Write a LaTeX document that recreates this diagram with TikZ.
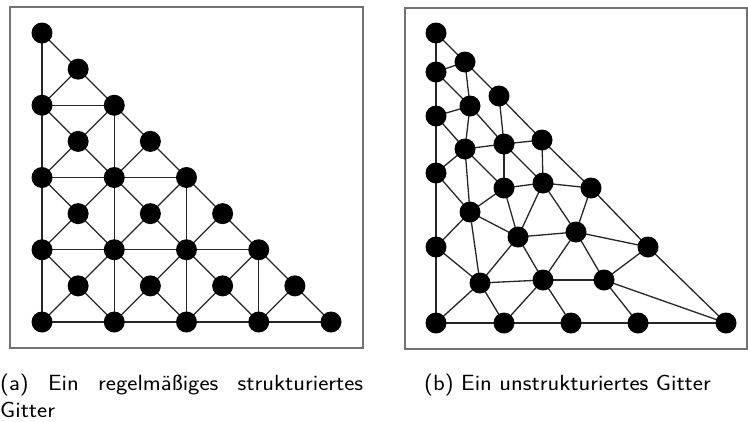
\documentclass[tikz,border=0pt]{standalone}
\usepackage{graphicx}
\begin{document}
\begin{tikzpicture}[x=1pt,y=-1pt,
  dot/.style={circle,fill=black,draw=none,minimum size=21pt,inner sep=0pt},
  link/.style={draw=black!85,line width=1.3pt},
  frame/.style={draw=black!55,line width=1.4pt},
  captext/.style={font=\sffamily\fontsize{22}{27.5}\selectfont,inner sep=0pt}]
\useasboundingbox (0,0) rectangle (748,421);

% ---- panel (a): regular structured mesh ----
\draw[frame] (10,7) rectangle (363,348);
\def\gx{36.125}
% corner nodes (even indices) and centre nodes (odd indices)
\foreach \i in {0,...,8}{
  \foreach \j in {0,...,8}{
    \pgfmathtruncatemacro{\sumij}{\i+\j}
    \pgfmathtruncatemacro{\modi}{mod(\i,2)}
    \pgfmathtruncatemacro{\modj}{mod(\j,2)}
    \ifnum\sumij<9
      \ifnum\modi=\modj
        \coordinate (a-\i-\j) at ({42+\gx*\i},{322-\gx*\j});
      \fi
    \fi
  }
}
% horizontal and vertical lines through the corner nodes
\draw[link] (a-0-0) -- (a-8-0);
\draw[link] (a-0-2) -- (a-6-2);
\draw[link] (a-0-4) -- (a-4-4);
\draw[link] (a-0-6) -- (a-2-6);
\draw[link] (a-0-0) -- (a-0-8);
\draw[link] (a-2-0) -- (a-2-6);
\draw[link] (a-4-0) -- (a-4-4);
\draw[link] (a-6-0) -- (a-6-2);
% diagonals from each centre node to its cell corners
\foreach \i/\j in {1/1,3/1,5/1,7/1,1/3,3/3,5/3,1/5,3/5,1/7}{
  \pgfmathtruncatemacro{\il}{\i-1}
  \pgfmathtruncatemacro{\ir}{\i+1}
  \pgfmathtruncatemacro{\jl}{\j-1}
  \pgfmathtruncatemacro{\ju}{\j+1}
  \pgfmathtruncatemacro{\sumij}{\i+\j}
  \draw[link] (a-\i-\j) -- (a-\il-\jl);
  \draw[link] (a-\i-\j) -- (a-\ir-\jl);
  \draw[link] (a-\i-\j) -- (a-\il-\ju);
  \ifnum\sumij<8 \draw[link] (a-\i-\j) -- (a-\ir-\ju); \fi
}
\foreach \i in {0,...,8}{
  \foreach \j in {0,...,8}{
    \pgfmathtruncatemacro{\sumij}{\i+\j}
    \pgfmathtruncatemacro{\modi}{mod(\i,2)}
    \pgfmathtruncatemacro{\modj}{mod(\j,2)}
    \ifnum\sumij<9
      \ifnum\modi=\modj
        \node[dot] (na-\i-\j) at (a-\i-\j) {};
      \fi
    \fi
  }
}

% ---- panel (b): unstructured mesh ----
\draw[frame] (405,8) rectangle (747,349);
\foreach \n/\x/\y in {
  1/436/33, 2/465/62, 3/436/72, 4/499/96, 5/470/106, 6/436/116,
  7/542/140, 8/465/149, 9/504/144, 10/436/173, 11/504/188, 12/543/183,
  13/591/188, 14/470/212, 15/518/237, 16/576/232, 17/648/247, 18/436/247,
  19/480/283, 20/543/280, 21/604/280, 22/436/323, 23/504/323, 24/571/323,
  25/638/323, 26/726/323}
  \coordinate (b\n) at (\x,\y);
\foreach \p/\q in {
  1/3, 3/6, 6/10, 10/18, 18/22,
  22/23, 23/24, 24/25, 25/26,
  1/2, 2/4, 4/7, 7/13, 13/17, 17/26,
  3/2, 2/5, 3/5, 6/5, 4/9, 5/9, 6/8, 5/8, 8/9, 9/7, 9/11, 7/12, 9/12,
  8/11, 8/10, 8/14, 10/14, 11/12, 12/13, 11/14, 11/15, 12/15, 12/16,
  13/16, 14/15, 14/19, 14/18, 15/16, 15/19, 15/20, 16/20, 16/21, 16/17,
  17/21, 21/26, 18/19, 19/20, 20/21, 19/22, 19/23, 20/23, 20/24, 21/25}
  \draw[link] (b\p) -- (b\q);
\foreach \n in {1,...,26}
  \node[dot] (nb\n) at (b\n) {};

% ---- captions (set slightly wide) ----
\node[captext,anchor=base west] (capa) at (0,390)
  {\scalebox{1.1}[1]{\parbox[t]{330pt}{\leavevmode\hbox to 330pt{(a)\hfill Ein\hfill regelmäßiges\hfill strukturiertes}\\Gitter}}};
\node[captext,anchor=base west] (capb) at (424,390)
  {\scalebox{1.1}[1]{(b) Ein unstrukturiertes Gitter}};
\end{tikzpicture}
\end{document}
